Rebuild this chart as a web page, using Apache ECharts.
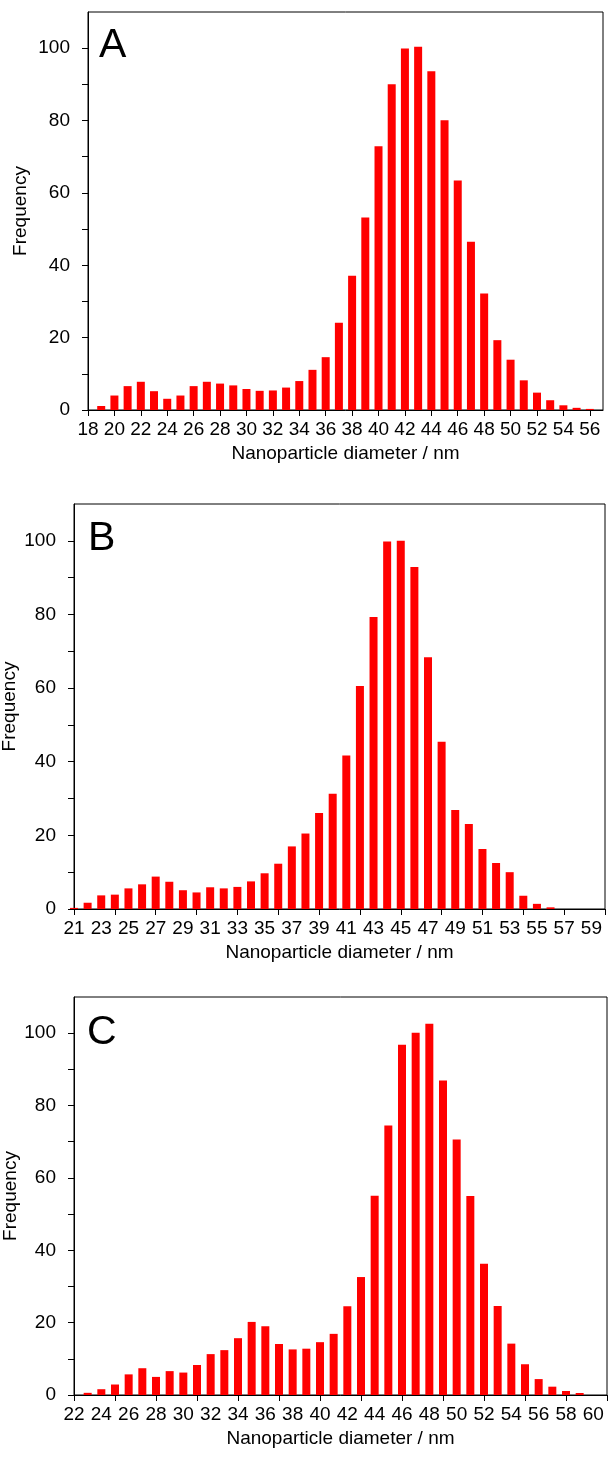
<!DOCTYPE html>
<html>
<head>
<meta charset="utf-8">
<script src="https://cdn.jsdelivr.net/npm/echarts@6/dist/echarts.min.js"></script>
<style>
html,body{margin:0;padding:0;background:#fff;}
#chart{width:608px;height:1458px;}
</style>
</head>
<body>
<div id="chart"></div>
<script>
// ---------- data ----------
const diameterA = [19,20,21,22,23,24,25,26,27,28,29,30,31,32,33,34,35,36,37,38,39,40,41,42,43,44,45,46,47,48,49,50,51,52,53,54,55,56];
const frequencyA = [1.1,4.0,6.6,7.8,5.2,3.1,4.0,6.6,7.8,7.3,6.8,5.8,5.3,5.4,6.2,8.0,11.1,14.6,24.1,37.1,53.2,72.9,90.0,99.9,100.4,93.6,80.1,63.4,46.5,32.2,19.3,13.9,8.2,4.8,2.7,1.3,0.6,0.3];

const diameterB = [21,22,23,24,25,26,27,28,29,30,31,32,33,34,35,36,37,38,39,40,41,42,43,44,45,46,47,48,49,50,51,52,53,54,55,56];
const frequencyB = [0.3,1.7,3.7,3.9,5.6,6.7,8.8,7.4,5.1,4.5,5.9,5.6,6.0,7.5,9.7,12.3,17.0,20.5,26.1,31.3,41.7,60.6,79.3,99.8,100.0,92.9,68.4,45.4,26.9,23.1,16.3,12.5,10.0,3.6,1.4,0.45];

const diameterC = [23,24,25,26,27,28,29,30,31,32,33,34,35,36,37,38,39,40,41,42,43,44,45,46,47,48,49,50,51,52,53,54,55,56,57,58,59];
const frequencyC = [0.6,1.6,2.9,5.7,7.4,5.0,6.6,6.2,8.3,11.3,12.4,15.7,20.2,19.0,14.1,12.6,12.8,14.6,16.9,24.5,32.6,55.1,74.5,96.8,100.1,102.6,86.9,70.6,55.0,36.3,24.6,14.2,8.5,4.4,2.3,1.1,0.55];

const xLabelsA = [18,20,22,24,26,28,30,32,34,36,38,40,42,44,46,48,50,52,54,56];
const xTicksA  = [18,20,22,24,26,28,30,32,34,36,38,40,42,44,46,48,50,52,54,56];
const xLabelsB = [21,23,25,27,29,31,33,35,37,39,41,43,45,47,49,51,53,55,57,59];
const xTicksB  = [21,24,27,30,33,36,39,42,45,48,51,54,57,60];
const xLabelsC = [22,24,26,28,30,32,34,36,38,40,42,44,46,48,50,52,54,56,58,60];
const xTicksC  = [22,25,28,31,34,37,40,43,46,49,52,55,58,61];
const yLabels = [0,20,40,60,80,100];
const yTicks  = [0,10,20,30,40,50,60,70,80,90,100];
const panelLetters = ['A','B','C'];
const xName = 'Nanoparticle diameter / nm';
const yName = 'Frequency';

// ---------- layout ----------
const FONT = "'Liberation Sans', Arial, sans-serif";
const panels = [
  {grid:{left:88, top:12, width:515, height:398}, xmin:18, xmax:57, xs:diameterA, ys:frequencyA, xl:xLabelsA, xt:xTicksA, yGap:58, letter:{left:99, top:25}},
  {grid:{left:74, top:504, width:531, height:405}, xmin:21, xmax:60, xs:diameterB, ys:frequencyB, xl:xLabelsB, xt:xTicksB, yGap:55, letter:{left:88, top:518}},
  {grid:{left:74, top:997, width:533, height:398}, xmin:22, xmax:61, xs:diameterC, ys:frequencyC, xl:xLabelsC, xt:xTicksC, yGap:54, letter:{left:87, top:1012}}
];

const grids = [], xAxes = [], yAxes = [], series = [], graphics = [];
panels.forEach((p, i) => {
  grids.push(Object.assign({show:true, borderColor:'#000', borderWidth:1, backgroundColor:'#fff', containLabel:false, outerBoundsMode:'none'}, p.grid));
  xAxes.push({
    type:'value', gridIndex:i, min:p.xmin, max:p.xmax,
    name:xName, nameLocation:'middle', nameGap:34, nameMoveOverlap:false,
    nameTextStyle:{color:'#000', fontSize:19, fontFamily:FONT},
    axisLine:{show:true, lineStyle:{color:'#000', width:1}},
    axisTick:{show:true, inside:false, length:6, customValues:p.xt, lineStyle:{color:'#000', width:1}},
    axisLabel:{show:true, margin:10, color:'#000', fontSize:19, fontFamily:FONT, customValues:p.xl, hideOverlap:false},
    splitLine:{show:false}
  });
  yAxes.push({
    type:'value', gridIndex:i, min:0, max:110,
    name:yName, nameLocation:'middle', nameGap:p.yGap, nameRotate:90, nameMoveOverlap:false,
    nameTextStyle:{color:'#000', fontSize:19, fontFamily:FONT},
    axisLine:{show:true, lineStyle:{color:'#000', width:1}},
    axisTick:{show:true, inside:false, length:6, customValues:yTicks, lineStyle:{color:'#000', width:1}},
    axisLabel:{show:true, margin:18, color:'#000', fontSize:19, fontFamily:FONT, customValues:yLabels, hideOverlap:false},
    splitLine:{show:false}
  });
  series.push({
    type:'bar', xAxisIndex:i, yAxisIndex:i, barWidth:8, clip:true,
    itemStyle:{color:'#ff0000'},
    data:p.xs.map((x, k) => [x, p.ys[k]]),
    animation:false
  });
  graphics.push({
    type:'text', left:p.letter.left, top:p.letter.top, z:100,
    style:{text:panelLetters[i], font:'41px ' + FONT, fill:'#000'}
  });
});

const chart = echarts.init(document.getElementById('chart'), null, {renderer:'canvas'});
chart.setOption({
  animation:false,
  backgroundColor:'#fff',
  grid:grids, xAxis:xAxes, yAxis:yAxes, series:series, graphic:graphics
});
</script>
</body>
</html>
